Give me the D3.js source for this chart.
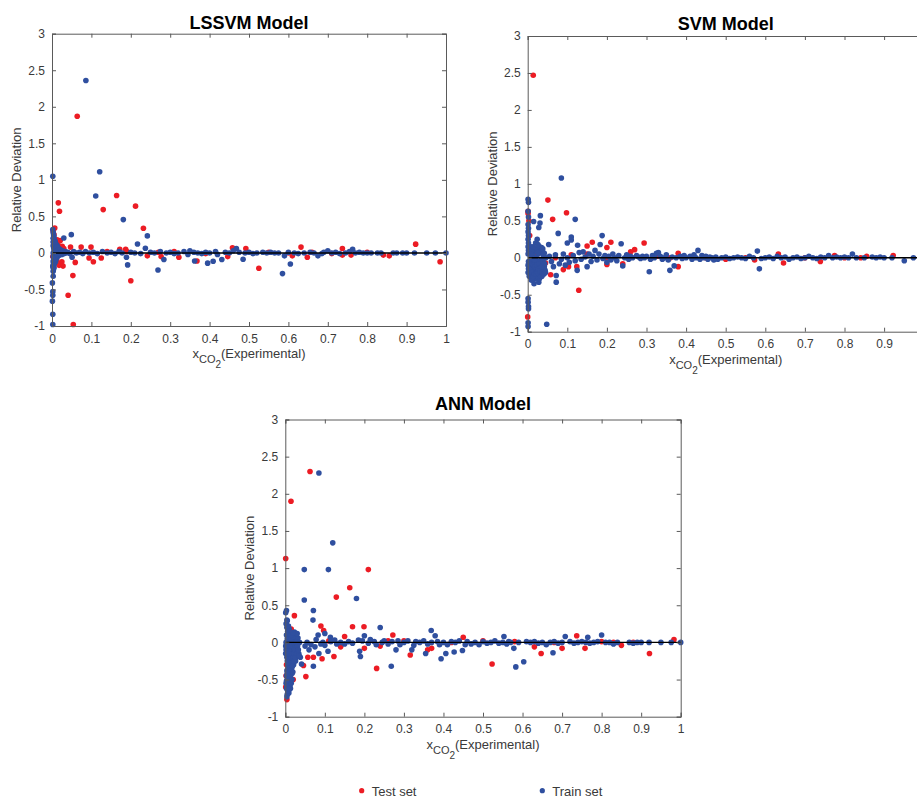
<!DOCTYPE html>
<html>
<head>
<meta charset="utf-8">
<script src="https://cdn.jsdelivr.net/npm/d3@7"></script>
<style>
  body { margin: 0; background: #fff; }
  svg { display: block; font-family: "Liberation Sans", Arial, Helvetica, sans-serif; }
</style>
</head>
<body>
<svg id="chart" width="917" height="797"></svg>
<script>
// ---- data: [x_CO2, relative deviation] ----
var lssvmTrain = [
  [0.086,2.36],[0.002,1.05],[0.121,1.11],[0.111,0.78],[0.181,0.456],[0.242,0.233],[0.237,0.064],[0.217,0.123],
  [0.049,0.25],[0.030,0.205],[0.002,0.32],[0.269,-0.233],[0.192,-0.164],[0.189,-0.06],[0.585,-0.283],[0.605,-0.151],
  [0.59,-0.04],[0.485,-0.087],[0.409,-0.114],[0.395,-0.14],[0.362,-0.11],[0.284,-0.09],[0.431,-0.09],[0.675,-0.04],
  [0.051,-0.06],[0.763,0.05],[0.7,0.03],[0.468,0.06],[0.35,0.03],
  [0.001,-0.41],[0.002,-0.58],[0.001,-0.66],[0.002,-0.84],[0.002,-0.98],[0.002,-0.53],[0.003,-0.32],[0.003,-0.25],
  [0.002,-0.18],[0.003,-0.12],
  [0.003,0.28],[0.004,0.25],[0.004,0.2],[0.005,0.22],[0.005,0.15],[0.005,0.1],[0.006,0.18],[0.006,0.05],[0.006,-0.05],
  [0.006,-0.15],[0.005,-0.2],[0.004,-0.22],[0.007,0.12],[0.007,-0.1],[0.008,0.16],[0.008,0.08],[0.008,-0.08],[0.009,0.1],
  [0.009,-0.12],[0.01,0.12],[0.01,0.04],[0.01,-0.04],[0.011,-0.08],[0.012,0.08],[0.012,-0.06],[0.013,0.1],[0.014,0.05],
  [0.014,-0.05],[0.015,0.07],[0.016,-0.04],[0.017,0.06],[0.018,0.03],[0.018,-0.03],[0.02,0.05],[0.021,-0.02],[0.022,0.04],
  [0.024,0.02],[0.025,-0.02],[0.027,0.03],[0.029,0.01],[0.031,-0.01],[0.034,0.02],[0.036,0.0],[0.04,0.01],[0.045,-0.01],
  [0.004,0.08],[0.004,-0.1],[0.005,0.02],[0.007,0.02],[0.003,0.0],[0.003,0.1],[0.003,-0.05],
  [0.003,0.2],[0.003,0.15],[0.003,-0.2],[0.004,0.15],[0.004,-0.15],[0.005,-0.1],[0.005,0.06],[0.006,0.1],[0.006,-0.1],
  [0.007,0.08],[0.007,-0.06],[0.008,0.12],[0.009,0.05],[0.009,-0.06],[0.011,0.08],[0.011,0.02],[0.013,-0.03],[0.016,0.04],
  [0.019,-0.01],[0.023,0.01],
  [0.055,0.02],[0.062,0.0],[0.07,0.01],[0.078,-0.01],[0.085,0.02],[0.095,0.0],[0.105,0.01],[0.115,-0.01],[0.128,0.02],
  [0.14,0.0],[0.15,0.01],[0.16,-0.01],[0.17,0.02],[0.178,0.0],[0.2,0.01],[0.21,0.0],[0.225,-0.01],[0.25,0.01],[0.26,0.0],
  [0.275,0.02],[0.29,0.0],[0.3,0.01],[0.31,-0.01],[0.32,0.0],[0.335,0.02],[0.345,-0.02],[0.36,0.01],[0.37,0.0],[0.38,-0.01],
  [0.39,0.01],[0.4,0.0],[0.415,0.02],[0.42,-0.02],[0.44,0.01],[0.45,0.0],[0.46,0.03],[0.475,0.01],[0.49,0.0],[0.5,0.01],
  [0.51,-0.01],[0.52,0.0],[0.535,0.01],[0.545,0.0],[0.555,0.01],[0.565,0.0],[0.575,0.0],[0.6,0.01],[0.615,0.0],[0.625,-0.01],
  [0.64,0.0],[0.655,0.01],[0.665,0.0],[0.685,-0.01],[0.69,0.01],[0.71,0.0],[0.72,0.01],[0.73,-0.01],[0.745,0.0],[0.755,0.02],
  [0.77,0.0],[0.78,0.01],[0.79,0.0],[0.8,0.0],[0.81,0.0],[0.826,0.0],[0.835,0.0],[0.866,0.0],[0.875,0.0],[0.89,0.0],
  [0.9,0.0],[0.92,0.0],[0.951,0.0],[0.973,0.0],[1.0,0.0]
];
var lssvmTest = [
  [0.064,1.87],[0.016,0.685],[0.019,0.57],[0.164,0.785],[0.13,0.593],[0.212,0.64],[0.232,0.338],[0.007,0.34],[0.021,0.17],
  [0.026,0.09],[0.047,0.08],[0.074,0.08],[0.099,0.08],[0.172,0.05],[0.187,0.05],[0.458,0.07],[0.492,0.06],[0.632,0.08],
  [0.737,0.06],[0.923,0.12],[0.985,-0.12],[0.856,-0.04],[0.841,-0.03],[0.759,-0.03],[0.737,-0.03],[0.648,-0.06],[0.61,-0.04],
  [0.525,-0.21],[0.446,-0.05],[0.368,-0.11],[0.322,-0.06],[0.277,-0.05],[0.242,-0.04],[0.2,-0.38],[0.125,-0.07],[0.105,-0.12],
  [0.094,-0.07],[0.059,-0.13],[0.053,-0.31],[0.041,-0.58],[0.054,-0.98],[0.022,-0.15],[0.025,-0.12],[0.018,-0.17],[0.003,0.3],
  [0.005,0.25],[0.01,0.14],[0.013,0.18],[0.004,-0.2],[0.002,-0.05],[0.015,0.12],[0.012,-0.1],[0.14,0.02],[0.19,0.02],
  [0.27,0.01],[0.31,0.02],[0.39,-0.01],[0.55,0.01],[0.6,0.0],[0.66,0.01],[0.71,-0.01],[0.8,0.01],[0.015,0.02],[0.008,-0.12],
  [0.028,-0.18],[0.03,0.06]
];
var svmTrain = [
  [0.085,1.08],[0.001,0.79],[0.002,0.75],[0.12,0.52],[0.032,0.57],[0.031,0.47],[0.015,0.49],[0.028,0.41],[0.024,0.25],
  [0.077,0.33],[0.11,0.28],[0.053,0.18],[0.188,0.3],[0.236,0.19],[0.183,0.18],[0.126,0.17],[0.11,0.24],[0.1,0.2],
  [0.307,-0.19],[0.359,-0.17],[0.37,-0.11],[0.24,-0.11],[0.072,-0.24],[0.072,-0.33],[0.028,-0.33],[0.125,-0.17],[0.15,-0.12],
  [0.585,-0.15],[0.58,0.09],[0.43,0.1],[0.82,0.05],[0.951,-0.04],[0.974,0.0],[0.001,-0.55],[0.001,-0.6],[0.002,-0.66],
  [0.002,-0.69],[0.001,-0.88],[0.001,-0.93],[0.048,-0.9],
  [0.001,0.63],[0.002,0.55],[0.001,0.45],[0.002,0.4],[0.001,0.35],[0.002,0.3],[0.001,0.25],[0.002,0.2],[0.001,0.15],
  [0.002,0.1],[0.001,0.05],[0.002,-0.05],[0.001,-0.1],[0.002,-0.15],[0.001,-0.2],
  [0.005,-0.1],[0.006,-0.18],[0.007,-0.05],[0.008,-0.22],[0.009,0.0],[0.01,-0.12],[0.011,-0.25],[0.012,-0.08],[0.013,0.05],
  [0.014,-0.15],[0.015,-0.2],[0.016,-0.02],[0.017,-0.1],[0.018,0.1],[0.019,-0.28],[0.02,-0.15],[0.021,0.0],[0.022,-0.07],
  [0.023,-0.2],[0.024,0.12],[0.025,-0.12],[0.026,-0.25],[0.027,0.05],[0.028,-0.05],[0.029,-0.18],[0.03,0.15],[0.031,-0.1],
  [0.032,-0.22],[0.033,0.08],[0.034,-0.15],[0.035,-0.02],[0.036,-0.25],[0.037,0.1],[0.038,-0.08],[0.039,-0.2],[0.04,0.03],
  [0.042,-0.12],[0.044,-0.17],[0.046,0.0],[0.006,0.08],[0.008,0.15],[0.012,-0.3],[0.016,-0.35],[0.004,-0.25],[0.01,0.1],
  [0.02,0.2],[0.025,0.07],[0.03,-0.28],[0.035,0.14],[0.018,-0.05],[0.022,-0.25],
  [0.004,-0.15],[0.007,-0.25],[0.009,-0.3],[0.011,-0.2],[0.013,-0.25],[0.015,-0.1],[0.017,-0.22],[0.019,-0.12],
  [0.021,-0.22],[0.023,-0.1],[0.025,-0.2],[0.027,-0.15],[0.029,-0.08],[0.031,-0.18],[0.033,-0.25],[0.035,-0.12],
  [0.037,-0.2],[0.039,-0.05],[0.041,-0.22],[0.043,-0.08],[0.045,-0.2],[0.008,0.05],[0.014,0.15],[0.026,0.18],
  [0.038,0.12],[0.042,0.06],
  [0.055,0.02],[0.06,-0.05],[0.065,-0.12],[0.07,0.04],[0.08,-0.08],[0.085,-0.02],[0.09,0.05],[0.095,-0.1],[0.1,0.0],
  [0.105,-0.06],[0.115,0.03],[0.12,-0.04],[0.13,0.07],[0.135,-0.02],[0.14,0.08],[0.145,0.01],[0.155,0.05],[0.16,-0.05],
  [0.165,0.02],[0.17,0.1],[0.175,-0.03],[0.18,0.05],[0.19,-0.01],[0.195,0.03],[0.2,-0.06],[0.205,0.02],[0.21,-0.03],
  [0.215,0.05],[0.22,0.0],[0.225,-0.04],[0.23,0.03],[0.245,0.0],[0.25,0.04],[0.255,-0.02],[0.26,0.02],[0.265,0.0],
  [0.275,0.03],[0.28,0.01],[0.285,-0.01],[0.29,0.02],[0.295,0.0],[0.3,0.02],[0.31,-0.02],[0.315,0.03],[0.32,0.0],
  [0.325,0.06],[0.33,0.07],[0.335,0.02],[0.34,-0.02],[0.345,0.0],[0.35,0.04],[0.355,-0.03],[0.365,0.01],[0.375,0.0],
  [0.385,0.02],[0.39,-0.01],[0.395,0.03],[0.4,0.0],[0.41,0.02],[0.415,-0.02],[0.42,0.04],[0.425,0.0],[0.435,-0.02],
  [0.44,0.03],[0.445,0.0],[0.45,0.02],[0.455,-0.02],[0.46,0.01],[0.465,0.0],[0.47,-0.03],[0.475,0.01],[0.48,-0.02],
  [0.49,0.0],[0.5,0.01],[0.51,-0.01],[0.52,0.0],[0.53,0.01],[0.54,0.0],[0.55,-0.01],[0.56,0.02],[0.57,0.0],[0.59,-0.01],
  [0.6,0.0],[0.61,0.01],[0.62,-0.01],[0.63,0.02],[0.64,0.0],[0.65,0.01],[0.66,-0.02],[0.67,0.0],[0.68,0.01],[0.69,-0.01],
  [0.7,0.0],[0.71,0.02],[0.72,0.0],[0.73,-0.01],[0.74,0.01],[0.75,0.0],[0.76,0.03],[0.77,0.0],[0.78,0.01],[0.79,0.0],
  [0.8,0.01],[0.81,0.0],[0.83,0.0],[0.85,0.0],[0.87,0.01],[0.88,0.0],[0.89,0.01],[0.9,0.0],[0.92,0.0]
];
var svmTest = [
  [0.014,2.47],[0.051,0.78],[0.098,0.61],[0.063,0.52],[0.001,0.63],[0.001,0.6],[0.294,0.2],[0.21,0.21],[0.163,0.21],
  [0.15,0.16],[0.2,0.14],[0.27,0.11],[0.26,0.08],[0.129,-0.44],[0.124,-0.12],[0.103,-0.12],[0.09,-0.16],[0.058,-0.23],
  [0.045,-0.07],[0.38,-0.12],[0.2,-0.09],[0.24,-0.08],[0.38,0.06],[0.36,0.0],[0.633,0.05],[0.646,-0.07],[0.739,-0.05],
  [0.775,0.03],[0.841,0.0],[0.856,0.02],[0.923,0.03],[0.573,-0.03],[0.0,-0.8],[0.02,-0.2],[0.03,-0.25],[0.015,0.1],
  [0.01,-0.05],[0.025,0.05],[0.04,-0.15],[0.005,0.3],[0.003,0.5],[0.07,0.0],[0.15,0.05],[0.2,0.0],[0.33,0.02],[0.45,0.0],
  [0.5,-0.02],[0.55,0.0],[0.7,0.0],[0.8,0.0],[0.11,0.04]
];
var annTrain = [
  [0.085,2.28],[0.12,1.34],[0.048,0.98],[0.109,0.98],[0.048,0.57],[0.18,0.59],[0.071,0.43],[0.07,0.3],[0.001,0.4],
  [0.003,0.43],[0.005,0.29],[0.24,0.2],[0.369,0.16],[0.379,0.09],[0.8,0.1],[0.708,0.08],[0.553,0.08],[0.765,0.07],
  [0.583,-0.33],[0.603,-0.26],[0.578,-0.08],[0.677,-0.14],[0.448,-0.11],[0.427,-0.13],[0.406,-0.15],[0.394,-0.22],
  [0.355,-0.15],[0.268,-0.32],[0.28,-0.1],[0.32,-0.1],[0.19,-0.19],[0.188,-0.12],[0.108,-0.12],[0.071,-0.32],[0.085,-0.15],
  [0.041,-0.29],[0.1,0.12],[0.083,0.1],[0.078,0.04],[0.114,0.07],[0.2,0.09],[0.95,0.0],[0.976,0.0],[1.0,0.0],
  [0.002,0.25],[0.004,0.2],[0.006,0.15],[0.003,0.1],[0.005,0.05],[0.008,0.22],[0.01,0.18],[0.012,0.1],[0.007,0.0],
  [0.002,-0.1],[0.003,-0.15],[0.004,-0.2],[0.005,-0.25],[0.006,-0.3],[0.007,-0.35],[0.008,-0.4],[0.009,-0.45],[0.01,-0.5],
  [0.011,-0.55],[0.012,-0.6],[0.006,-0.65],[0.005,-0.7],[0.004,-0.73],[0.003,-0.62],[0.002,-0.55],[0.003,-0.45],
  [0.004,-0.38],[0.005,-0.5],[0.006,-0.58],[0.007,-0.62],[0.008,-0.55],[0.009,-0.3],[0.01,-0.22],[0.011,-0.38],[0.012,-0.45],
  [0.013,-0.3],[0.014,-0.5],[0.015,-0.2],[0.016,-0.35],[0.017,-0.42],[0.018,-0.15],[0.019,-0.25],[0.02,-0.1],[0.021,-0.3],
  [0.022,-0.05],[0.024,-0.18],[0.025,0.05],[0.026,-0.12],[0.028,0.1],[0.03,-0.08],[0.032,0.06],[0.034,-0.15],[0.036,0.0],
  [0.038,-0.2],[0.015,0.05],[0.018,0.0],[0.02,0.08],[0.023,0.14],[0.026,-0.25],[0.028,-0.2],[0.01,-0.1],[0.008,-0.05],
  [0.013,-0.62],[0.009,-0.68],[0.001,-0.15],[0.001,-0.05],[0.002,0.0],
  [0.004,-0.6],[0.006,-0.45],[0.007,-0.5],[0.008,-0.65],[0.009,-0.58],[0.01,-0.62],[0.011,-0.48],[0.012,-0.35],
  [0.013,-0.45],[0.014,-0.38],[0.015,-0.55],[0.016,-0.28],[0.017,-0.5],[0.018,-0.32],[0.019,-0.4],[0.02,-0.2],
  [0.021,-0.15],[0.022,-0.25],[0.023,-0.08],[0.024,-0.1],[0.025,-0.2],[0.027,0.0],[0.029,-0.15],[0.03,0.12],
  [0.031,-0.05],[0.033,-0.1],[0.035,-0.18],[0.003,-0.52],[0.005,-0.42],[0.007,-0.27],[0.009,-0.15],[0.011,-0.05],
  [0.006,0.22],[0.004,0.3],[0.016,0.1],[0.019,0.13],
  [0.05,-0.05],[0.055,0.0],[0.06,-0.1],[0.065,-0.03],[0.075,-0.06],[0.09,-0.02],[0.095,0.0],[0.1,-0.04],[0.115,0.01],
  [0.125,0.03],[0.13,-0.02],[0.14,0.0],[0.15,-0.02],[0.16,0.01],[0.17,-0.01],[0.185,0.03],[0.195,0.02],[0.21,-0.01],
  [0.215,0.04],[0.225,0.01],[0.23,-0.03],[0.245,0.0],[0.25,0.02],[0.26,-0.02],[0.27,0.01],[0.285,0.02],[0.29,-0.03],
  [0.3,0.0],[0.31,0.02],[0.325,-0.04],[0.33,0.01],[0.34,0.0],[0.35,0.02],[0.36,-0.02],[0.37,0.0],[0.385,0.01],[0.39,-0.03],
  [0.4,0.0],[0.41,-0.03],[0.42,0.01],[0.43,0.0],[0.44,0.02],[0.455,-0.03],[0.46,0.01],[0.47,-0.02],[0.48,0.0],[0.49,-0.03],
  [0.5,0.01],[0.51,-0.01],[0.52,0.0],[0.53,0.02],[0.54,-0.01],[0.55,0.0],[0.56,-0.02],[0.565,0.01],[0.57,0.0],[0.59,0.0],
  [0.61,0.01],[0.62,0.0],[0.63,0.01],[0.64,-0.01],[0.65,0.0],[0.66,-0.03],[0.67,0.0],[0.68,0.01],[0.69,-0.01],[0.7,0.0],
  [0.72,0.01],[0.73,-0.01],[0.74,0.0],[0.75,0.01],[0.76,0.0],[0.77,-0.01],[0.78,0.0],[0.79,0.01],[0.81,0.0],[0.82,0.0],
  [0.83,-0.02],[0.84,0.0],[0.87,0.0],[0.88,-0.01],[0.89,0.0],[0.9,0.0],[0.92,0.0]
];
var annTest = [
  [0.0625,2.3],[0.0144,1.9],[0.001,1.13],[0.21,0.98],[0.163,0.735],[0.129,0.61],[0.023,0.36],[0.09,0.22],[0.097,0.16],
  [0.17,0.21],[0.199,0.21],[0.15,0.08],[0.272,0.1],[0.45,0.07],[0.737,0.09],[0.983,0.04],[0.921,-0.15],[0.758,-0.08],
  [0.7,-0.08],[0.647,-0.15],[0.63,-0.06],[0.523,-0.29],[0.83,0.0],[0.85,-0.04],[0.231,-0.35],[0.316,-0.17],[0.36,-0.1],
  [0.37,-0.08],[0.2,-0.08],[0.123,-0.19],[0.093,-0.22],[0.071,-0.2],[0.057,-0.2],[0.046,-0.31],[0.052,-0.46],[0.004,-0.77],
  [0.02,-0.5],[0.015,0.18],[0.01,0.15],[0.003,-0.3],[0.002,-0.45],[0.005,-0.55],[0.001,-0.6],[0.018,-0.4],[0.025,-0.1],
  [0.03,0.05],[0.014,-0.25],[0.008,0.1],[0.14,-0.06],[0.24,-0.05],[0.3,0.02],[0.42,0.0],[0.5,0.02],[0.58,0.01],[0.68,0.0],
  [0.8,0.01],[0.88,0.0],[0.26,0.02],[0.11,0.02]
];

var titles = ["LSSVM Model", "SVM Model", "ANN Model"];
var xTicks = [0, 0.1, 0.2, 0.3, 0.4, 0.5, 0.6, 0.7, 0.8, 0.9, 1];
var yTicks = [-1, -0.5, 0, 0.5, 1, 1.5, 2, 2.5, 3];
var seriesNames = ["Test set", "Train set"];

var RED = "#ec1c24", BLUE = "#2f4f9f";
var AXIS = "#5a5a5a", TEXT = "#3a3a3a";
var W = 917;

var svg = d3.select("#chart");

// panel boxes (svm one runs past the right edge, like the source image)
var panels = [
  {title: titles[0], train: lssvmTrain, test: lssvmTest, left: 52, right: 446, top: 33.7, bottom: 326, titleY: 29},
  {title: titles[1], train: svmTrain, test: svmTest, left: 527.7, right: 923.7, top: 36, bottom: 331.7, titleY: 29.5},
  {title: titles[2], train: annTrain, test: annTest, left: 285.3, right: 680.7, top: 419.5, bottom: 716.7, titleY: 410}
];

panels.forEach(function (p) { drawPanel(p); });

function plain(d) { return String(d); } // keeps ascii hyphen for negatives

function drawPanel(p) {
  var x = d3.scaleLinear().domain([0, 1]).range([p.left, p.right]);
  var y = d3.scaleLinear().domain([-1, 3]).range([p.bottom, p.top]);
  var g = svg.append("g");

  // dots: test first, train over it
  g.append("g").selectAll("circle").data(p.test).join("circle")
    .attr("cx", function (d) { return x(d[0]); })
    .attr("cy", function (d) { return y(d[1]); })
    .attr("r", 2.8).attr("fill", RED);
  g.append("g").selectAll("circle").data(p.train).join("circle")
    .attr("cx", function (d) { return x(d[0]); })
    .attr("cy", function (d) { return y(d[1]); })
    .attr("r", 2.8).attr("fill", BLUE);

  // zero reference line
  g.append("line")
    .attr("x1", x(0)).attr("x2", x(1))
    .attr("y1", y(0)).attr("y2", y(0))
    .attr("stroke", "#000").attr("stroke-width", 1.4);

  // axes, matlab-like boxed with inward ticks
  var axB = d3.axisBottom(x).tickValues(xTicks.filter(function (t) { return x(t) < W - 4; }))
    .tickSize(-4).tickPadding(8).tickFormat(plain);
  var axL = d3.axisLeft(y).tickValues(yTicks).tickSize(-4).tickPadding(7).tickFormat(plain);
  var axT = d3.axisTop(x).tickValues(xTicks).tickSize(-4).tickFormat("");
  var axR = d3.axisRight(y).tickValues(yTicks).tickSize(-4).tickFormat("");

  [[axB, "translate(0," + p.bottom + ")"], [axL, "translate(" + p.left + ",0)"],
   [axT, "translate(0," + p.top + ")"], [axR, "translate(" + p.right + ",0)"]].forEach(function (a) {
    var ag = g.append("g").attr("transform", a[1]).call(a[0]);
    ag.select(".domain").attr("stroke", AXIS).attr("stroke-width", 1);
    ag.selectAll(".tick line").attr("stroke", AXIS);
    ag.selectAll(".tick text").attr("fill", TEXT).style("font-size", "12px")
      .style("font-family", "'Liberation Sans', Arial, sans-serif");
  });

  var mid = (p.left + p.right) / 2;

  // title
  g.append("text").attr("x", mid).attr("y", p.titleY)
    .attr("text-anchor", "middle").attr("fill", "#000")
    .style("font-size", "18px").style("font-weight", "bold").text(p.title);

  // y label
  g.append("text")
    .attr("transform", "translate(" + (p.left - 31) + "," + ((p.top + p.bottom) / 2) + ") rotate(-90)")
    .attr("text-anchor", "middle").attr("fill", TEXT).style("font-size", "13px")
    .text("Relative Deviation");

  // x label with nested subscript
  var xl = g.append("text").attr("x", mid).attr("y", p.bottom + 32)
    .attr("text-anchor", "middle").attr("fill", TEXT).style("font-size", "13px");
  xl.append("tspan").text("x");
  xl.append("tspan").attr("dy", 5).style("font-size", "11px").text("CO");
  xl.append("tspan").attr("dy", 5).style("font-size", "10px").text("2");
  xl.append("tspan").attr("dy", -10).text("(Experimental)");
}

// legend
var legend = svg.append("g");
var legendX = [361.7, 542.3];
seriesNames.forEach(function (name, i) {
  legend.append("circle").attr("cx", legendX[i]).attr("cy", 790.7).attr("r", 2.6)
    .attr("fill", i === 0 ? RED : BLUE);
  legend.append("text").attr("x", legendX[i] + 10).attr("y", 795.5)
    .attr("fill", TEXT).style("font-size", "13px").text(name);
});
</script>
</body>
</html>
